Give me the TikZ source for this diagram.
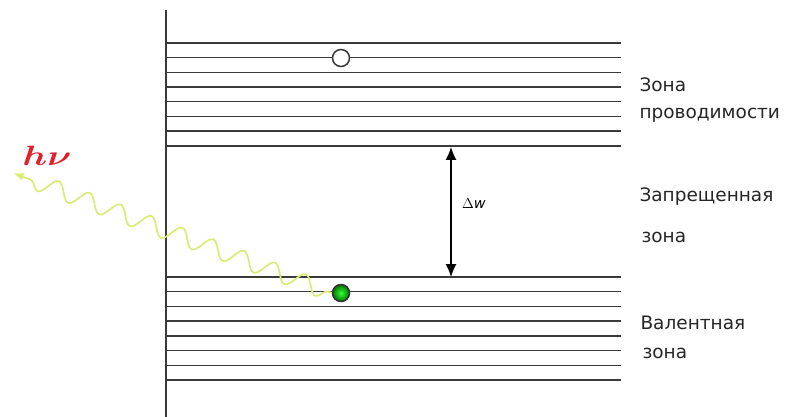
\documentclass[tikz,border=0pt]{standalone}
\usepackage{fontspec}
\usepackage{bm}
\setmainfont{DejaVu Sans}
\usetikzlibrary{arrows.meta,decorations.pathmorphing}
\definecolor{levelgray}{HTML}{3A3A3A}
\definecolor{photon}{HTML}{DCEB78}
\definecolor{hvred}{HTML}{E0202A}
\tikzset{
  level/.style={draw=levelgray, line width=1.4pt},
  zonetext/.style={anchor=west, font=\fontsize{18.5}{20}\selectfont, text=black!85},
  particle/.style={circle, minimum size=17pt, inner sep=0pt, line width=1.5pt},
}
\begin{document}
\begin{tikzpicture}[x=1pt, y=-1pt, >=Latex]

        % Рамка
        \useasboundingbox (0,0) rectangle (787,417);

        % Ось энергии
        \draw[level] (166,10) -- (166,417);

        % Зона проводимости
        \foreach \y in {43,57.7,...,147} {
            \draw[level] (166,\y) -- (621,\y);
        }

        % Валентная зона
        \foreach \y in {277,291.7,...,381} {
            \draw[level] (166,\y) -- (621,\y);
        }

        % Дырка и электрон
        \node[particle, draw=levelgray, fill=white] (hole) at (341,58) {};
        \node[particle, draw=black!80, inner color=green!80!white, outer color=green!45!black] (electron) at (341,293) {};

        % Ширина запрещенной зоны
        \coordinate (gaptop) at (451,147);
        \coordinate (gapbot) at (451,277);
        \draw[{Latex[length=13pt,width=11pt]}-{Latex[length=13pt,width=11pt]}, line width=1.3pt] (gaptop) -- (gapbot);
        \node (dw) at (474,204) {\Large$\Delta\mathit{w}$};

        % Фотон
        \coordinate (photontip) at (13,173);
        \draw[photon, line width=1.7pt, ->,
              decorate, decoration={snake, amplitude=8.5pt, segment length=33pt,
              pre length=4pt, post length=14pt}]
            (electron.west) -- (photontip);
        \node[text=hvred, font=\huge] (hv) at (47,156) {\scalebox{1.8}[1.35]{$\bm{h\nu}$}};

        % Подписи зон
        \node[zonetext] (cond1) at (636,85) {Зона};
        \node[zonetext] (cond2) at (636,115) {проводимости};
        \node[zonetext] (gap1) at (636,197) {Запрещенная};
        \node[zonetext] (gap2) at (638,237) {зона};
        \node[zonetext] (val1) at (637,323) {Валентная};
        \node[zonetext] (val2) at (639,353) {зона};

    \end{tikzpicture}
\end{document}
